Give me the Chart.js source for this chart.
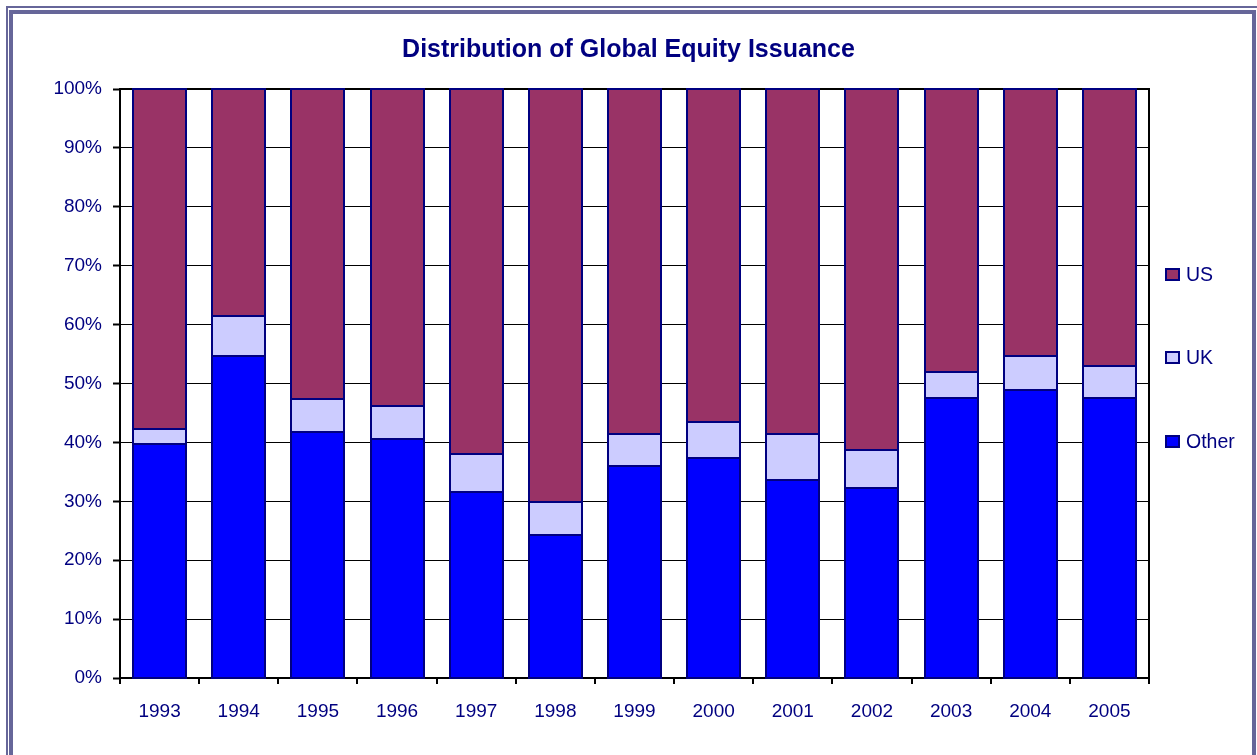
<!DOCTYPE html>
<html>
<head>
<meta charset="utf-8">
<script src="https://cdn.jsdelivr.net/npm/chart.js@4/dist/chart.umd.min.js"></script>
<style>
  html, body { margin: 0; padding: 0; background: #ffffff; }
  #wrap { position: relative; width: 1257px; height: 755px; }
  canvas { display: block; }
</style>
</head>
<body>
<div id="wrap"><canvas id="c" width="1257" height="755"></canvas></div>
<script>
const years = ['1993','1994','1995','1996','1997','1998','1999','2000','2001','2002','2003','2004','2005'];
const otherShare = [39.8, 54.7, 41.8, 40.5, 31.5, 24.2, 36.0, 37.4, 33.6, 32.3, 47.6, 48.9, 47.6];
const ukShare    = [2.4, 6.8, 5.5, 5.7, 6.5, 5.7, 5.5, 6.1, 7.8, 6.4, 4.4, 5.8, 5.4];
const usShare    = [57.8, 38.5, 52.7, 53.8, 62.0, 70.1, 58.5, 56.5, 58.6, 61.3, 48.0, 45.3, 47.0];
const yTicks = [0, 10, 20, 30, 40, 50, 60, 70, 80, 90, 100];

const FONT = '"Liberation Sans", Arial, sans-serif';
const NAVY = '#000080';

const framePlugin = {
  id: 'frame',
  beforeDraw(chart) {
    const ctx = chart.ctx;
    ctx.save();
    ctx.fillStyle = '#ffffff';
    ctx.fillRect(0, 0, chart.width, chart.height);
    ctx.restore();
  },
  afterDraw(chart) {
    const ctx = chart.ctx;
    const W = chart.width, H = chart.height;
    ctx.save();
    ctx.fillStyle = '#666699';
    ctx.fillRect(6, 6, W, 2);
    ctx.fillRect(6, 6, 2, H);
    ctx.fillRect(9, 10, W - 14, 4);
    ctx.fillRect(9, 10, 4, H);
    ctx.fillRect(W - 5, 10, 4, H);
    ctx.restore();
  }
};

const plotBorderPlugin = {
  id: 'plotBorder',
  beforeDatasetsDraw(chart) {
    const {ctx, chartArea: a} = chart;
    ctx.save();
    ctx.strokeStyle = '#000000';
    ctx.lineWidth = 2;
    ctx.beginPath();
    ctx.moveTo(a.left, a.top);
    ctx.lineTo(a.right, a.top);
    ctx.lineTo(a.right, a.bottom);
    ctx.stroke();
    ctx.restore();
  }
};

// crisp outlines for every bar segment, using the element geometry computed by Chart.js
const barOutlinePlugin = {
  id: 'barOutline',
  afterDatasetsDraw(chart) {
    const ctx = chart.ctx;
    ctx.save();
    ctx.strokeStyle = NAVY;
    ctx.lineWidth = 2;
    chart.data.datasets.forEach((ds, di) => {
      const meta = chart.getDatasetMeta(di);
      meta.data.forEach(el => {
        const p = el.getProps(['x', 'y', 'base', 'width'], true);
        const l = Math.round(p.x - p.width / 2);
        const r = Math.round(p.x + p.width / 2);
        const t = Math.round(Math.min(p.y, p.base));
        const b = Math.round(Math.max(p.y, p.base));
        ctx.strokeRect(l, t, r - l, b - t);
      });
    });
    ctx.restore();
  }
};

const legendPlugin = {
  id: 'sideLegend',
  afterDraw(chart) {
    const ctx = chart.ctx;
    const centers = [441.5, 358, 275]; // Other, UK, US
    ctx.save();
    ctx.font = '19.5px ' + FONT;
    ctx.textBaseline = 'middle';
    ctx.textAlign = 'left';
    chart.data.datasets.forEach((ds, i) => {
      const cy = Math.round(centers[i]);
      ctx.fillStyle = ds.backgroundColor;
      ctx.fillRect(1166, cy - 6, 13, 11);
      ctx.strokeStyle = NAVY;
      ctx.lineWidth = 2;
      ctx.strokeRect(1166, cy - 6, 13, 11);
      ctx.fillStyle = NAVY;
      ctx.fillText(ds.label, 1186, centers[i] + 1);
    });
    ctx.restore();
  }
};

const barCommon = {
  borderWidth: 0,
  barPercentage: 0.67,
  categoryPercentage: 1.0
};

new Chart(document.getElementById('c'), {
  type: 'bar',
  data: {
    labels: years,
    datasets: [
      Object.assign({ label: 'Other', data: otherShare, backgroundColor: '#0000FF' }, barCommon),
      Object.assign({ label: 'UK', data: ukShare, backgroundColor: '#CCCCFF' }, barCommon),
      Object.assign({ label: 'US', data: usShare, backgroundColor: '#993366' }, barCommon)
    ]
  },
  options: {
    responsive: false,
    animation: false,
    devicePixelRatio: 1,
    layout: { padding: { left: 0, right: 0, top: 0, bottom: 0 } },
    plugins: {
      legend: { display: false },
      tooltip: { enabled: false },
      title: {
        display: true,
        text: 'Distribution of Global Equity Issuance',
        color: NAVY,
        font: { family: FONT, size: 25, weight: 'bold' },
        padding: { top: 35, bottom: 24 }
      }
    },
    scales: {
      x: {
        stacked: true,
        offset: true,
        grid: { offset: true, drawOnChartArea: false, color: '#000000', lineWidth: 2, tickLength: 6 },
        border: { color: '#000000', width: 2 },
        ticks: { color: NAVY, font: { family: FONT, size: 19 }, padding: 16, maxRotation: 0, autoSkip: false },
        afterFit(scale) { scale.height = 77; }
      },
      y: {
        stacked: true,
        min: 0,
        max: 100,
        afterBuildTicks(scale) { scale.ticks = yTicks.map(v => ({ value: v })); },
        grid: { color: '#000000', lineWidth: 1, tickLength: 7, tickWidth: 2 },
        border: { color: '#000000', width: 2 },
        ticks: { color: NAVY, font: { family: FONT, size: 19 }, padding: 11, callback: v => v + '%' },
        afterFit(scale) { scale.width = 120; }
      },
      legendSpace: {
        position: 'right',
        display: true,
        grid: { display: false, drawTicks: false },
        border: { display: false },
        ticks: { display: false },
        afterFit(scale) { scale.width = 108; }
      }
    }
  },
  plugins: [framePlugin, plotBorderPlugin, barOutlinePlugin, legendPlugin]
});
</script>
</body>
</html>
